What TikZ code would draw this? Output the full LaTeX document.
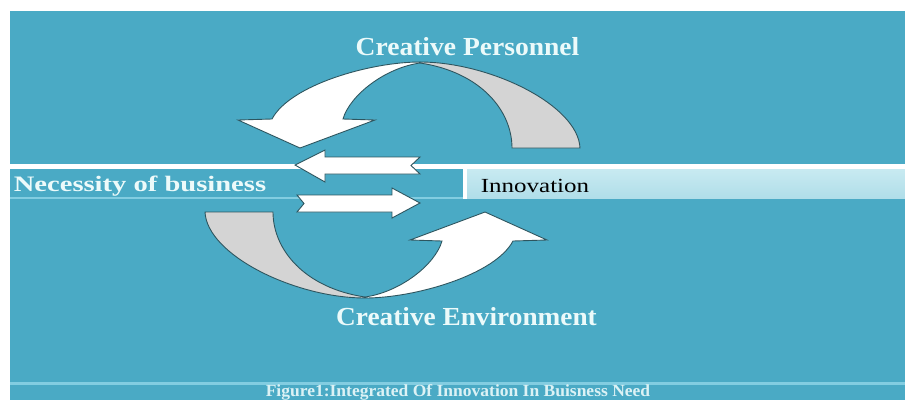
\documentclass[tikz,border=0pt]{standalone}
\usepackage{fontspec}
\setmainfont{Liberation Serif}
\definecolor{bgblue}{RGB}{74,170,197}
\definecolor{lightbar}{RGB}{176,222,233}
\definecolor{lightbartop}{RGB}{200,234,241}
\definecolor{edgeline}{RGB}{45,85,95}
\definecolor{ribbongray}{RGB}{212,212,212}
\definecolor{paletext}{RGB}{236,250,250}
\definecolor{faintline}{RGB}{130,205,225}
\begin{document}
\begin{tikzpicture}[x=1pt,y=-1pt,
  shapeedge/.style={draw=edgeline,line width=0.9pt,line join=miter},
  whiteribbon/.style={shapeedge,fill=white},
  grayribbon/.style={shapeedge,fill=ribbongray},
  flatarrow/.style={shapeedge,fill=white},
  headtext/.style={text=paletext,font=\bfseries\fontsize{26}{28}\selectfont,inner sep=0pt,anchor=base},
  bartext/.style={inner sep=0pt,anchor=base},
  captext/.style={text=paletext!90!bgblue,font=\bfseries\fontsize{17}{19}\selectfont,inner sep=0pt,anchor=base}]
\useasboundingbox (0,0) rectangle (905,400);
\clip (0,0) rectangle (905,400);
% background
\fill[white] (0,0) rectangle (905,400);
\fill[bgblue] (10,11) rectangle (905,400);
% horizontal band
\fill[white] (10,164) rectangle (905,169);
\fill[faintline] (10,197) rectangle (463,199);
\fill[white] (463,164) rectangle (467,199);
\shade[top color=lightbartop,bottom color=lightbar] (467,169) rectangle (905,198);
% bottom light line
\fill[faintline] (10,382) rectangle (905,384.5);
% top curved arrow
\path[grayribbon] (420,62) .. controls (490,62) and (578,105) .. (580,148)
  -- (512,148) .. controls (512,110) and (480,72) .. (420,63) -- cycle;
\path[whiteribbon] (420,62) .. controls (370,62) and (290,85) .. (272,119)
  -- (238,120) -- (300,148) -- (375,120) -- (343,119)
  .. controls (350,95) and (385,68) .. (420,63) -- cycle;
% bottom curved arrow (point reflection)
\begin{scope}[rotate around={180:(392.5,180)}]
\path[grayribbon] (420,62) .. controls (490,62) and (578,105) .. (580,148)
  -- (512,148) .. controls (512,110) and (480,72) .. (420,63) -- cycle;
\path[whiteribbon] (420,62) .. controls (370,62) and (290,85) .. (272,119)
  -- (238,120) -- (300,148) -- (375,120) -- (343,119)
  .. controls (350,95) and (385,68) .. (420,63) -- cycle;
\end{scope}
% straight arrows
\path[flatarrow] (295,165) -- (325,150) -- (325,157) -- (420,157) -- (411,165.5)
  -- (420,174) -- (325,174) -- (325,182) -- cycle;
\path[flatarrow] (420,203) -- (392,188) -- (392,195) -- (297,195) -- (304,203.5)
  -- (297,212) -- (392,212) -- (392,218) -- cycle;
% texts
\node[headtext] (personnel) at (467.5,55) {\scalebox{1.06}[1]{Creative Personnel}};
\node[headtext] (environment) at (466.5,325) {\scalebox{1.05}[1]{Creative Environment}};
\node[bartext,text=paletext,font=\bfseries\fontsize{21}{23}\selectfont] (necessity) at (140,191) {\scalebox{1.36}[1.05]{Necessity of business}};
\node[bartext,text=black,font=\fontsize{20}{22}\selectfont] (innovation) at (535,192) {\scalebox{1.25}[1]{Innovation}};
\node[captext] (caption) at (458,396) {\scalebox{1.03}[1]{Figure1:Integrated Of Innovation In Buisness Need}};
\end{tikzpicture}
\end{document}
